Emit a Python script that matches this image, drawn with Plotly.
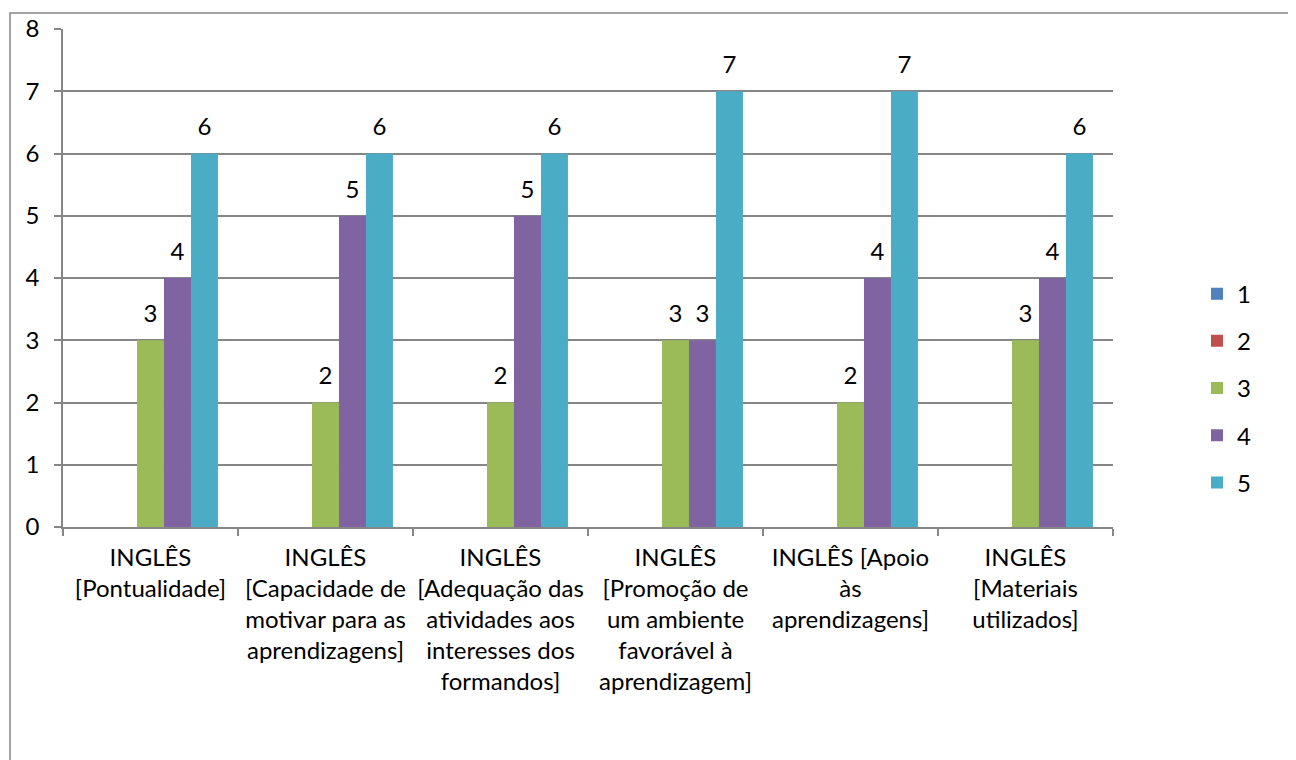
import plotly.graph_objects as go

categories = [
    "INGLÊS<br>[Pontualidade]",
    "INGLÊS<br>[Capacidade de<br>motivar para as<br>aprendizagens]",
    "INGLÊS<br>[Adequação das<br>atividades aos<br>interesses dos<br>formandos]",
    "INGLÊS<br>[Promoção de<br>um ambiente<br>favorável à<br>aprendizagem]",
    "INGLÊS [Apoio<br>às<br>aprendizagens]",
    "INGLÊS<br>[Materiais<br>utilizados]",
]
series_names = ["1", "2", "3", "4", "5"]
values_1 = [0, 0, 0, 0, 0, 0]
values_2 = [0, 0, 0, 0, 0, 0]
values_3 = [3, 2, 2, 3, 2, 3]
values_4 = [4, 5, 5, 3, 4, 4]
values_5 = [6, 6, 6, 7, 7, 6]
colors = ["#4F81BD", "#C0504D", "#9BBB59", "#8064A2", "#4BACC6"]
y_ticks = [0, 1, 2, 3, 4, 5, 6, 7, 8]

all_values = [values_1, values_2, values_3, values_4, values_5]
FONT = "Lato"
FS = 24
GRID = "#868686"

fig = go.Figure()
for i, (name, vals, col) in enumerate(zip(series_names, all_values, colors)):
    fig.add_trace(go.Bar(
        x=categories, y=vals, name=name, marker=dict(color=col, line=dict(width=0)),
        offsetgroup=str(i), legendgroup=name, hoverinfo="skip",
    ))
for i, (name, vals) in enumerate(zip(series_names, all_values)):
    fig.add_trace(go.Scatter(
        x=categories, y=vals, mode="markers+text",
        text=[str(v) if v else "" for v in vals], textposition="top center",
        textfont=dict(family=FONT, size=FS, color="black"),
        marker=dict(size=18, opacity=0),
        offsetgroup=str(i), showlegend=False, hoverinfo="skip", cliponaxis=False,
    ))

fig.update_layout(
    width=1288, height=752,
    margin=dict(l=55, r=183, t=21, b=233, autoexpand=False),
    paper_bgcolor="white", plot_bgcolor="white",
    barmode="group", bargap=0.229, scattermode="group", scattergap=0.229,
    font=dict(family=FONT, size=FS, color="black"),
    showlegend=True,
    legend=dict(x=1.08, y=0.279, xanchor="left", yanchor="middle",
                traceorder="grouped", tracegroupgap=13,
                font=dict(family=FONT, size=FS, color="black")),
    xaxis=dict(showline=True, linecolor=GRID, linewidth=1.5, ticks="outside",
               tickson="boundaries", ticklen=7, tickcolor=GRID, tickwidth=1.5,
               showgrid=False, ticklabelstandoff=8, tickangle=0, automargin=False),
    yaxis=dict(range=[0, 8], tickvals=y_ticks, showgrid=True, gridcolor=GRID,
               gridwidth=1.5, showline=True, linecolor=GRID, linewidth=1.5,
               ticks="outside", ticklen=7, tickcolor=GRID, tickwidth=1.5,
               zeroline=False, ticklabelstandoff=10, automargin=False),
    shapes=[dict(type="rect", xref="paper", yref="paper",
                 x0=(10 - 63) / 1050, x1=1.3, y0=-0.6, y1=(527 - 13) / 498,
                 line=dict(color=GRID, width=1.5), fillcolor="rgba(0,0,0,0)",
                 layer="below")],
)

fig.write_html("out.html")
